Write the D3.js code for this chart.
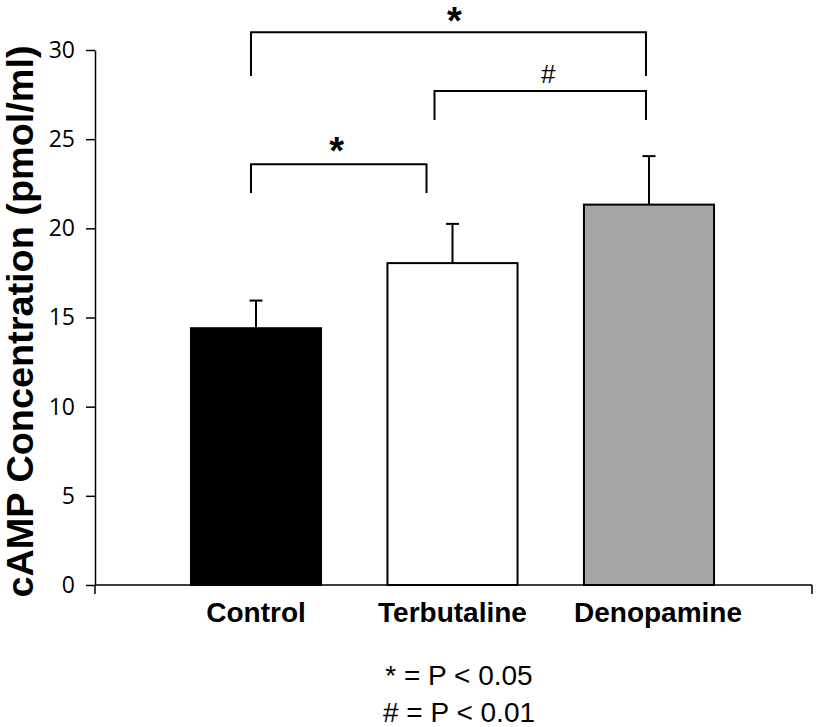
<!DOCTYPE html>
<html>
<head>
<meta charset="utf-8">
<script src="https://cdn.jsdelivr.net/npm/d3@7"></script>
<style>
  html, body { margin: 0; padding: 0; background: #fff; }
  svg { display: block; }
</style>
</head>
<body>
<script>
// ---- data ----
const categories = ["Control", "Terbutaline", "Denopamine"];
const means = [14.4, 18.05, 21.33];
const errors = [1.55, 2.2, 2.72];
const yTicks = [0, 5, 10, 15, 20, 25, 30];
const yLabel = "cAMP Concentration (pmol/ml)";
const brackets = [
  { from: "Control", to: "Denopamine", top: 31.0, bottom: 28.54, label: "*" },
  { from: "Terbutaline", to: "Denopamine", top: 27.7, bottom: 26.08, label: "#" },
  { from: "Control", to: "Terbutaline", top: 23.59, bottom: 21.98, label: "*" }
];
const footnotes = ["* = P < 0.05", "# = P < 0.01"];

// ---- style ----
const W = 816, H = 727;
const fills = ["#000000", "#ffffff", "#a6a6a6"];
const bracketStyle = [
  { dx1: -5, dx2: -3, ldx: 6, size: 38, weight: "bold", ldy: 2 },
  { dx1: -18, dx2: -3, ldx: 8, size: 26, weight: "normal", ldy: -8 },
  { dx1: -5, dx2: -26, ldx: -2, size: 38, weight: "bold", ldy: 0 }
];

const svg = d3.select("body").append("svg").attr("width", W).attr("height", H);

const y = d3.scaleLinear().domain([0, 30]).range([585, 50]);
const x = d3.scaleBand().domain(categories).range([157.75, 747.25])
  .paddingInner(0.338).paddingOuter(0.169);
const axisX0 = 95, axisX1 = 812;

// y axis
const yAxis = svg.append("g").attr("transform", `translate(${axisX0},0)`)
  .call(d3.axisLeft(y).tickValues(yTicks).tickSize(9).tickSizeOuter(0).tickPadding(11));
yAxis.select(".domain").attr("stroke", "#000").attr("stroke-width", 1.5);
yAxis.selectAll(".tick line").attr("stroke", "#000").attr("stroke-width", 1.5);
yAxis.selectAll(".tick text").attr("font-family", "'Open Sans', sans-serif")
  .attr("font-size", 23).attr("fill", "#000");

// bars
svg.append("g").selectAll("rect").data(categories).join("rect")
  .attr("x", d => x(d))
  .attr("y", (d, i) => y(means[i]))
  .attr("width", x.bandwidth())
  .attr("height", (d, i) => y(0) - y(means[i]))
  .attr("fill", (d, i) => fills[i])
  .attr("stroke", "#000").attr("stroke-width", 2);

// error bars (upward only)
const eb = svg.append("g").attr("stroke", "#000").attr("stroke-width", 2);
categories.forEach((c, i) => {
  const cx = x(c) + x.bandwidth() / 2;
  eb.append("line").attr("x1", cx).attr("x2", cx)
    .attr("y1", y(means[i])).attr("y2", y(means[i] + errors[i]));
  eb.append("line").attr("x1", cx - 6.5).attr("x2", cx + 6.5)
    .attr("y1", y(means[i] + errors[i])).attr("y2", y(means[i] + errors[i]));
});

// x axis line
const xa = svg.append("g").attr("stroke", "#000").attr("stroke-width", 1.5).attr("fill", "none");
xa.append("line").attr("x1", axisX0).attr("x2", axisX1).attr("y1", y(0)).attr("y2", y(0));
xa.append("line").attr("x1", axisX0).attr("x2", axisX0).attr("y1", y(0)).attr("y2", y(0) + 9);
xa.append("line").attr("x1", axisX1).attr("x2", axisX1).attr("y1", y(0)).attr("y2", y(0) + 9);

// category labels
svg.append("g").selectAll("text").data(categories).join("text")
  .attr("x", d => x(d) + x.bandwidth() / 2 + (d === "Denopamine" ? 9 : 0))
  .attr("y", 622)
  .attr("text-anchor", "middle")
  .attr("font-family", "'Liberation Sans', Arial, sans-serif")
  .attr("font-weight", "bold").attr("font-size", 28)
  .text(d => d);

// y label
svg.append("text")
  .attr("transform", `translate(33,${(43 + 600) / 2}) rotate(-90)`)
  .attr("text-anchor", "middle")
  .attr("font-family", "'Liberation Sans', Arial, sans-serif")
  .attr("font-weight", "bold").attr("font-size", 36)
  .attr("textLength", 552).attr("lengthAdjust", "spacingAndGlyphs")
  .text(yLabel);

// significance brackets
const bg = svg.append("g");
brackets.forEach((b, i) => {
  const s = bracketStyle[i];
  const x1 = x(b.from) + x.bandwidth() / 2 + s.dx1;
  const x2 = x(b.to) + x.bandwidth() / 2 + s.dx2;
  const yt = y(b.top), yb = y(b.bottom);
  bg.append("path")
    .attr("d", `M${x1},${yb}V${yt}H${x2}V${yb}`)
    .attr("fill", "none").attr("stroke", "#000").attr("stroke-width", 2);
  bg.append("text")
    .attr("x", (x1 + x2) / 2 + s.ldx)
    .attr("y", yt + s.ldy)
    .attr("text-anchor", "middle")
    .attr("font-family", "'Liberation Sans', Arial, sans-serif")
    .attr("font-weight", s.weight).attr("font-size", s.size)
    .text(b.label);
});

// footnotes
svg.append("g").selectAll("text").data(footnotes).join("text")
  .attr("x", 459).attr("y", (d, i) => 685 + i * 37)
  .attr("text-anchor", "middle")
  .attr("font-family", "'Liberation Sans', Arial, sans-serif")
  .attr("font-size", 28)
  .text(d => d);
</script>
</body>
</html>
